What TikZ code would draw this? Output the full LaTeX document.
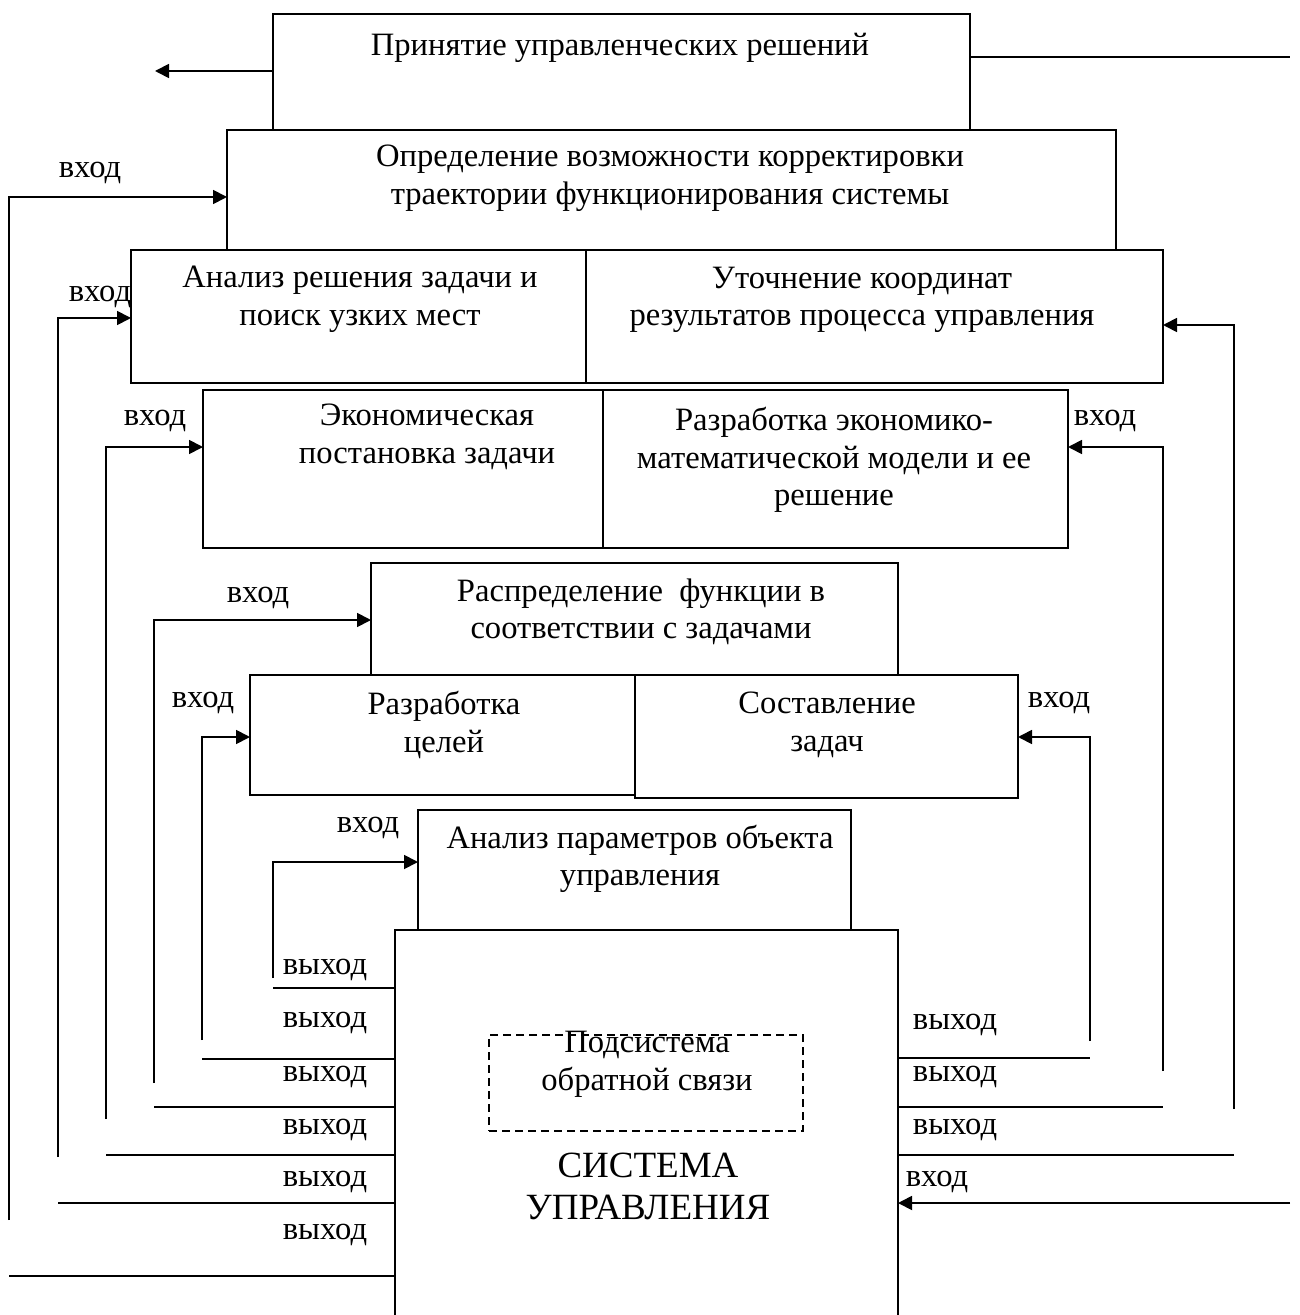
\documentclass[tikz,border=0pt]{standalone}
\usepackage{fontspec}
\setmainfont{Liberation Serif}
\usetikzlibrary{arrows.meta}
\newcommand\mkbox[5]{\node[box, minimum width={(#4-#2)*0.5pt}, minimum height={(#5-#3)*0.5pt}] (#1) at (#2,#3) {};}
\begin{document}
\begin{tikzpicture}[x=0.5pt,y=-0.5pt,
  box/.style={draw, line width=0.9pt, fill=white, anchor=north west, inner sep=0pt, outer sep=0pt},
  txt/.style={align=center, inner sep=0pt, font=\fontsize{16.3}{18.8}\selectfont},
  lbl/.style={inner sep=0pt, font=\fontsize{16.3}{18.8}\selectfont},
  ln/.style={line width=0.9pt},
  arr/.style={line width=0.9pt, -{Triangle[length=7pt,width=7pt]}},
]
\useasboundingbox (0,0) rectangle (1299,1315);

% boxes
\mkbox{b1}{273}{14}{970}{130}
\mkbox{b2}{227}{130}{1116}{250}
\mkbox{b3a}{131}{250}{586}{383}
\mkbox{b3b}{586}{250}{1163}{383}
\mkbox{b4a}{203}{390}{635}{548}
\mkbox{b4b}{603}{390}{1068}{548}
\mkbox{b5}{371}{563}{898}{675}
\mkbox{b6a}{250}{675}{640}{795}
\mkbox{b6b}{635}{675}{1018}{798}
\mkbox{b7}{418}{810}{851}{930}
\mkbox{b8}{395}{930}{898}{1345}
\node[draw, dash pattern=on 4pt off 2.5pt, line width=0.6pt, anchor=north west, inner sep=0pt, outer sep=0pt,
  minimum width={(803-489)*0.5pt}, minimum height={(1131-1035)*0.5pt}] (fb) at (489,1035) {};

% texts
\node[txt] (t1) at (620,48) {Принятие управленческих решений};
\node[txt] (t2) at (670,178) {Определение возможности корректировки\\траектории функционирования системы};
\node[txt] (t3a) at (360,299) {Анализ решения задачи и\\поиск узких мест};
\node[txt] (t3b) at (862,300) {Уточнение координат\\результатов процесса управления};
\node[txt] (t4a) at (427,437) {Экономическая\\постановка задачи};
\node[txt] (t4b) at (834,460) {Разработка экономико-\\математической модели и ее\\решение};
\node[txt] (t5) at (641,612) {Распределение~ функции в\\соответствии с задачами};
\node[txt] (t6a) at (444,725) {Разработка\\целей};
\node[txt] (t6b) at (827,725) {Составление\\задач};
\node[txt] (t7) at (640,859) {Анализ параметров объекта\\управления};
\node[txt] (tfb) at (647,1064) {Подсистема\\обратной связи};
\node[txt, font=\fontsize{18.5}{21}\selectfont] (t8) at (648,1186) {СИСТЕМА\\УПРАВЛЕНИЯ};

% labels
\node[lbl] (l1) at (90,173) {вход};
\node[lbl] (l2) at (100,297) {вход};
\node[lbl] (l3) at (155,421) {вход};
\node[lbl] (l4) at (1105,421) {вход};
\node[lbl] (l5) at (258,598) {вход};
\node[lbl] (l6) at (203,703) {вход};
\node[lbl] (l7) at (1059,703) {вход};
\node[lbl] (l8) at (368,828) {вход};
\node[lbl] (o1) at (325,970) {выход};
\node[lbl] (o2) at (325,1023) {выход};
\node[lbl] (o3) at (325,1077) {выход};
\node[lbl] (o4) at (325,1130) {выход};
\node[lbl] (o5) at (325,1182) {выход};
\node[lbl] (o6) at (325,1235) {выход};
\node[lbl] (r1) at (955,1025) {выход};
\node[lbl] (r2) at (955,1077) {выход};
\node[lbl] (r3) at (955,1130) {выход};
\node[lbl] (r4) at (937,1182) {вход};

% coordinates
\coordinate (lt) at (155,71);
\coordinate (rt) at (1290,57);
\coordinate (s1) at (9,1220);   \coordinate (e1) at (0,197);
\coordinate (s2) at (58,1157);  \coordinate (e2) at (0,318);
\coordinate (s3) at (106,1119); \coordinate (e3) at (0,447);
\coordinate (s4) at (154,1083); \coordinate (e4) at (0,620);
\coordinate (s5) at (202,1040); \coordinate (e5) at (0,737);
\coordinate (s6) at (273,978);  \coordinate (e6) at (0,862);
\coordinate (q1) at (1090,1041); \coordinate (f1) at (0,737);
\coordinate (q2) at (1163,1071); \coordinate (f2) at (0,447);
\coordinate (q3) at (1234,1109); \coordinate (f3) at (0,325);
\coordinate (p1) at (273,988);
\coordinate (p2) at (202,1059);
\coordinate (p3) at (154,1107);
\coordinate (p4) at (106,1155);
\coordinate (p5) at (58,1203);
\coordinate (p6) at (9,1276);
\coordinate (g1) at (1090,1058);
\coordinate (g2) at (1163,1107);
\coordinate (g3) at (1234,1155);
\coordinate (rin) at (1290,1203);

% top connectors
\draw[arr] (b1.west |- lt) -- (lt);
\draw[ln] (b1.east |- rt) -- (rt);

% left inputs
\draw[arr] (s1) |- (b2.west |- e1);
\draw[arr] (s2) |- (b3a.west |- e2);
\draw[arr] (s3) |- (b4a.west |- e3);
\draw[arr] (s4) |- (b5.west |- e4);
\draw[arr] (s5) |- (b6a.west |- e5);
\draw[arr] (s6) |- (b7.west |- e6);

% right inputs
\draw[arr] (q1) |- (b6b.east |- f1);
\draw[arr] (q2) |- (b4b.east |- f2);
\draw[arr] (q3) |- (b3b.east |- f3);

% outputs
\draw[ln] (b8.west |- p1) -- (p1);
\draw[ln] (b8.west |- p2) -- (p2);
\draw[ln] (b8.west |- p3) -- (p3);
\draw[ln] (b8.west |- p4) -- (p4);
\draw[ln] (b8.west |- p5) -- (p5);
\draw[ln] (b8.west |- p6) -- (p6);
\draw[ln] (b8.east |- g1) -- (g1);
\draw[ln] (b8.east |- g2) -- (g2);
\draw[ln] (b8.east |- g3) -- (g3);
\draw[arr] (rin) -- (b8.east |- rin);
\end{tikzpicture}
\end{document}
